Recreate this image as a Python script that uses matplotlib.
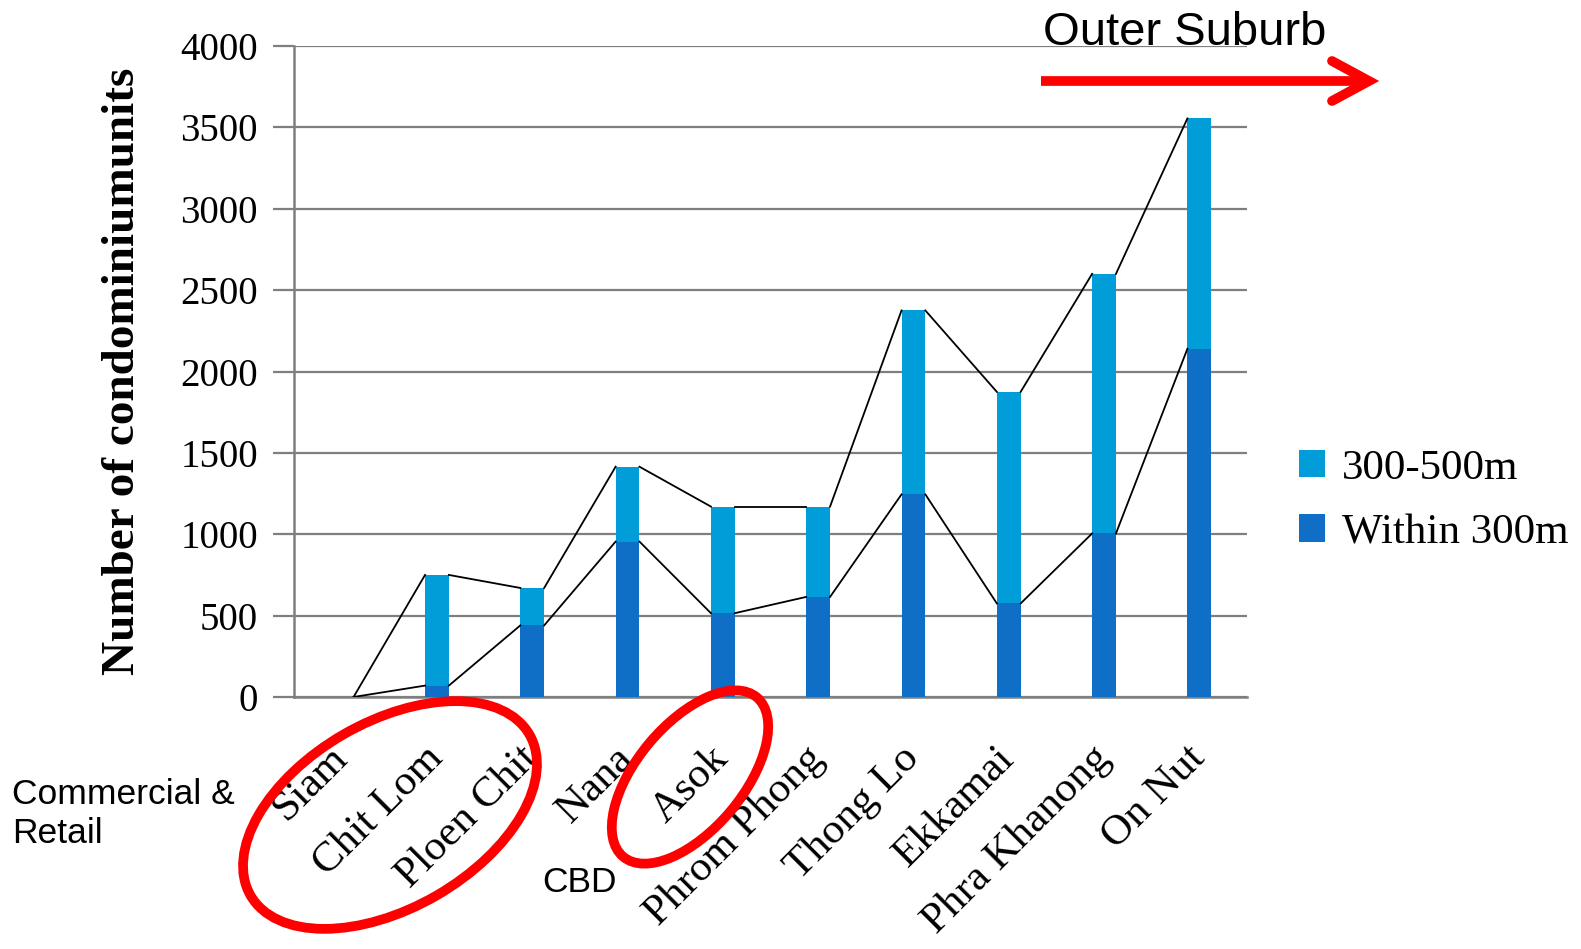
import numpy as np
import matplotlib
matplotlib.use("Agg")
import matplotlib.pyplot as plt
from matplotlib.patches import Ellipse

# data
stations = ["Siam", "Chit Lom", "Ploen Chit", "Nana", "Asok", "Phrom Phong",
            "Thong Lo", "Ekkamai", "Phra Khanong", "On Nut"]
within_300 = [0, 70, 440, 955, 515, 615, 1245, 575, 1005, 2140]
band_300_500 = [0, 680, 230, 460, 655, 555, 1130, 1300, 1595, 1415]
y_ticks = [0, 500, 1000, 1500, 2000, 2500, 3000, 3500, 4000]

c_light = "#009DD9"
c_dark = "#0F6FC6"
grey = "#7f7f7f"
serif = "Liberation Serif"
sans = "Liberation Sans"

W, H = 1581, 949
fig = plt.figure(figsize=(W / 100, H / 100), dpi=100)
ax = fig.add_axes([294 / W, 1 - 697 / H, (1247 - 294) / W, (697 - 46) / H])

x = np.arange(len(stations))
bw = 0.25
within = np.array(within_300)
total = within + np.array(band_300_500)

ax.bar(x, within, bw, color=c_dark, label="Within 300m", zorder=3)
ax.bar(x, band_300_500, bw, bottom=within, color=c_light, label="300-500m", zorder=3)

# series lines: right edge of one bar top to left edge of the next (Excel style)
for top in (within, total):
    for i in range(len(x) - 1):
        ax.plot([x[i] + bw / 2, x[i + 1] - bw / 2], [top[i], top[i + 1]],
                color="black", lw=1.3, zorder=4)

ax.set_xlim(-0.5, len(x) - 0.5)
ax.set_ylim(0, 4000)
ax.set_yticks(y_ticks)
ax.set_yticklabels([str(v) for v in y_ticks], fontfamily=serif, fontsize=28)
ax.yaxis.grid(True, color=grey, lw=1.6, zorder=0)
ax.set_axisbelow(True)
for s in ("top", "right"):
    ax.spines[s].set_visible(False)
for s in ("left", "bottom"):
    ax.spines[s].set_color(grey)
    ax.spines[s].set_linewidth(1.8)
ax.tick_params(axis="y", length=15, width=1.6, color=grey, pad=11)
ax.tick_params(axis="x", length=0, pad=40)

ax.set_xticks(x)
ax.set_xticklabels(stations, fontfamily=serif, fontsize=31, rotation=45,
                   ha="right", va="center", rotation_mode="anchor")

ax.set_ylabel("Number of condominiumunits", fontfamily=serif, fontsize=34,
              fontweight="bold", labelpad=26)

h, l = ax.get_legend_handles_labels()
fig.legend(h[::-1], l[::-1], loc="upper left", bbox_to_anchor=(1282 / W, 1 - 432 / H),
           frameon=False, prop={"family": serif, "size": 31}, handlelength=0.6,
           handleheight=0.6, handletextpad=0.4, labelspacing=0.6, borderaxespad=0)

# overlay in pixel coordinates for the hand-drawn annotations
ov = fig.add_axes([0, 0, 1, 1], facecolor="none")
ov.set_xlim(0, W)
ov.set_ylim(H, 0)
ov.axis("off")

ov.text(1043, 33, "Outer Suburb", fontfamily=sans, fontsize=34, va="center", ha="left")
ov.plot([1041, 1366], [81, 81], color="red", lw=7, solid_capstyle="butt")
ov.plot([1332, 1369, 1332], [61, 81, 101], color="red", lw=7,
        solid_capstyle="round", solid_joinstyle="miter")

ov.text(12, 814, "Commercial &\nRetail", fontfamily=sans, fontsize=25.5,
        va="center", ha="left", linespacing=1.2)
ov.text(542, 882, "CBD", fontfamily=sans, fontsize=25.5, va="center", ha="left")

ov.add_patch(Ellipse((390, 815), 322, 186, angle=-30, fill=False, ec="red", lw=7))
ov.add_patch(Ellipse((690, 777), 208, 106, angle=-50, fill=False, ec="red", lw=7))

fig.savefig("out.png", dpi=100, facecolor="white")
